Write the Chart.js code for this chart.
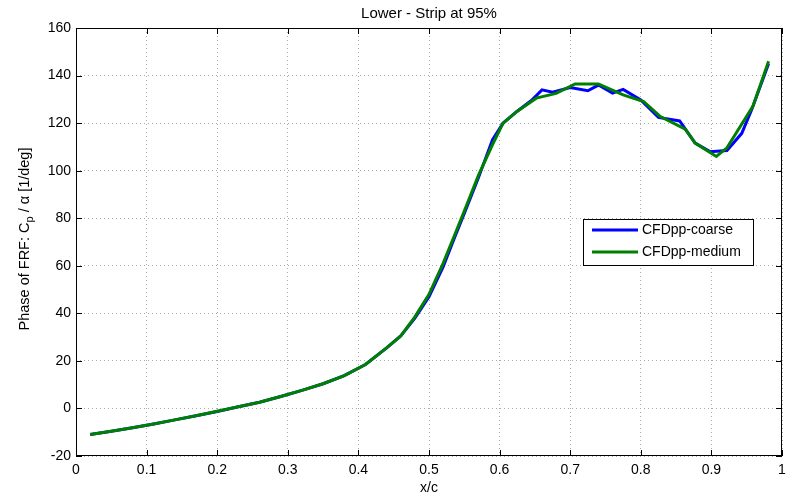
<!DOCTYPE html>
<html>
<head>
<meta charset="utf-8">
<script src="https://cdn.jsdelivr.net/npm/chart.js@4"></script>
<style>
  body { margin: 0; background: #fff; }
  #wrap { width: 792px; height: 496px; }
</style>
</head>
<body>
<div id="wrap"><canvas id="phaseChart" width="792" height="496"></canvas></div>
<script>
// values
const coarseX = [0.02, 0.05, 0.08, 0.11, 0.14, 0.17, 0.20, 0.23, 0.26, 0.29, 0.32, 0.35, 0.38, 0.41, 0.44, 0.46, 0.48, 0.50, 0.52, 0.535, 0.55, 0.57, 0.59, 0.605, 0.625, 0.645, 0.66, 0.675, 0.70, 0.725, 0.74, 0.76, 0.775, 0.80, 0.825, 0.855, 0.877, 0.898, 0.922, 0.943, 0.957, 0.981];
const coarseY = [-11, -9.6, -8.1, -6.5, -4.8, -3.1, -1.3, 0.7, 2.6, 5, 7.6, 10.4, 13.8, 18.5, 25.5, 30.5, 38, 47, 59.5, 71, 82, 97, 113, 120, 125, 129.5, 134, 133, 135, 133.6, 136, 132.6, 134.2, 129.7, 122.4, 120.9, 111.6, 108, 108.5, 115.7, 125.6, 145];
const mediumX = [0.02, 0.05, 0.08, 0.11, 0.14, 0.17, 0.20, 0.23, 0.26, 0.29, 0.32, 0.35, 0.38, 0.41, 0.44, 0.46, 0.48, 0.50, 0.52, 0.535, 0.55, 0.57, 0.59, 0.605, 0.625, 0.652, 0.68, 0.707, 0.74, 0.775, 0.804, 0.827, 0.863, 0.877, 0.907, 0.922, 0.959, 0.981];
const mediumY = [-11, -9.6, -8.1, -6.5, -4.8, -3.1, -1.2, 0.7, 2.6, 5, 7.6, 10.4, 13.8, 18.5, 25.5, 30.5, 38.5, 48, 61, 72, 83, 98, 111, 120, 125, 130.5, 132.5, 136.5, 136.5, 131.9, 129.1, 122.9, 117.5, 111.6, 106, 109.6, 127.2, 146];
const seriesNames = ["CFDpp-coarse", "CFDpp-medium"];
const seriesColors = ["#0000ff", "#008000"];
const xTicks = [0, 0.1, 0.2, 0.3, 0.4, 0.5, 0.6, 0.7, 0.8, 0.9, 1];
const yTicks = [-20, 0, 20, 40, 60, 80, 100, 120, 140, 160];

function pts(xs, ys) {
  return xs.map((x, i) => ({ x: x, y: ys[i] }));
}

const FONT = "'Liberation Sans', Arial, sans-serif";

// title, y label with subscript, axes box and the legend inside the plot
const matlabBits = {
  id: "matlabBits",
  afterDraw(chart) {
    const ctx = chart.ctx;
    const a = chart.chartArea;
    ctx.save();
    // box
    ctx.strokeStyle = "#000";
    ctx.lineWidth = 1;
    ctx.strokeRect(a.left + 0.5, a.top + 0.5, a.right - a.left - 1, a.bottom - a.top - 1);

    // small ticks inside the box
    const xs = chart.scales.x, ys = chart.scales.y;
    ctx.beginPath();
    xTicks.forEach(v => {
      const px = Math.round(xs.getPixelForValue(v)) + 0.5;
      ctx.moveTo(px, a.bottom); ctx.lineTo(px, a.bottom - 6);
      ctx.moveTo(px, a.top); ctx.lineTo(px, a.top + 6);
    });
    yTicks.forEach(v => {
      const py = Math.round(ys.getPixelForValue(v)) + 0.5;
      ctx.moveTo(a.left, py); ctx.lineTo(a.left + 6, py);
      ctx.moveTo(a.right, py); ctx.lineTo(a.right - 6, py);
    });
    ctx.stroke();

    // title
    ctx.fillStyle = "#000";
    ctx.font = "15px " + FONT;
    ctx.textAlign = "center";
    ctx.textBaseline = "middle";
    ctx.fillText("Lower - Strip at 95%", (a.left + a.right) / 2, 14);

    // x label
    ctx.font = "14px " + FONT;
    ctx.fillText("x/c", (a.left + a.right) / 2, 488);

    // y label, rotated, with C_p
    ctx.save();
    ctx.translate(25, (a.top + a.bottom) / 2 - 3);
    ctx.rotate(-Math.PI / 2);
    const parts = [
      { t: "Phase of FRF: C", f: "14.5px " + FONT, dy: 0 },
      { t: "p", f: "11px " + FONT, dy: 5 },
      { t: " / \u03b1 [1/deg]", f: "14.5px " + FONT, dy: 0 }
    ];
    let total = 0;
    parts.forEach(p => { ctx.font = p.f; total += ctx.measureText(p.t).width; });
    let x0 = -total / 2;
    ctx.textAlign = "left";
    parts.forEach(p => {
      ctx.font = p.f;
      ctx.fillText(p.t, x0, p.dy);
      x0 += ctx.measureText(p.t).width;
    });
    ctx.restore();

    // legend
    const lx = 583, ly = 219, lw = 170, lh = 46;
    ctx.fillStyle = "#fff";
    ctx.fillRect(lx, ly, lw, lh);
    ctx.strokeStyle = "#000";
    ctx.lineWidth = 1;
    ctx.strokeRect(lx + 0.5, ly + 0.5, lw, lh);
    ctx.font = "14px " + FONT;
    ctx.textAlign = "left";
    ctx.textBaseline = "middle";
    seriesNames.forEach((name, i) => {
      const yy = ly + 11 + i * 22;
      ctx.strokeStyle = seriesColors[i];
      ctx.lineWidth = 3;
      ctx.beginPath();
      ctx.moveTo(lx + 9, yy);
      ctx.lineTo(lx + 55, yy);
      ctx.stroke();
      ctx.fillStyle = "#000";
      ctx.fillText(name, lx + 59, yy);
    });
    ctx.restore();
  }
};

new Chart("phaseChart", {
  type: "line",
  data: {
    datasets: [
      {
        label: seriesNames[0],
        data: pts(coarseX, coarseY),
        borderColor: seriesColors[0],
        borderWidth: 3,
        pointRadius: 0,
        tension: 0,
        fill: false,
        order: 1
      },
      {
        label: seriesNames[1],
        data: pts(mediumX, mediumY),
        borderColor: seriesColors[1],
        borderWidth: 3,
        pointRadius: 0,
        tension: 0,
        fill: false,
        order: 0
      }
    ]
  },
  options: {
    responsive: false,
    animation: false,
    layout: { padding: { top: 28, right: 10, left: 0, bottom: 0 } },
    plugins: {
      legend: { display: false },
      title: { display: false },
      tooltip: { enabled: false }
    },
    scales: {
      x: {
        type: "linear",
        min: 0,
        max: 1,
        afterBuildTicks: s => { s.ticks = xTicks.map(v => ({ value: v })); },
        afterFit: s => { s.height = 40; },
        grid: { color: "#aaa", drawTicks: false },
        border: { display: false, dash: [1, 3] },
        ticks: {
          color: "#000",
          font: { size: 14, family: FONT },
          padding: 6,
          maxRotation: 0,
          callback: v => String(v)
        }
      },
      y: {
        type: "linear",
        min: -20,
        max: 160,
        afterBuildTicks: s => { s.ticks = yTicks.map(v => ({ value: v })); },
        afterFit: s => { s.width = 76; },
        grid: { color: "#aaa", drawTicks: false },
        border: { display: false, dash: [1, 3] },
        ticks: {
          color: "#000",
          font: { size: 14, family: FONT },
          padding: 5,
          callback: v => String(v)
        }
      }
    }
  },
  plugins: [matlabBits]
});
</script>
</body>
</html>
